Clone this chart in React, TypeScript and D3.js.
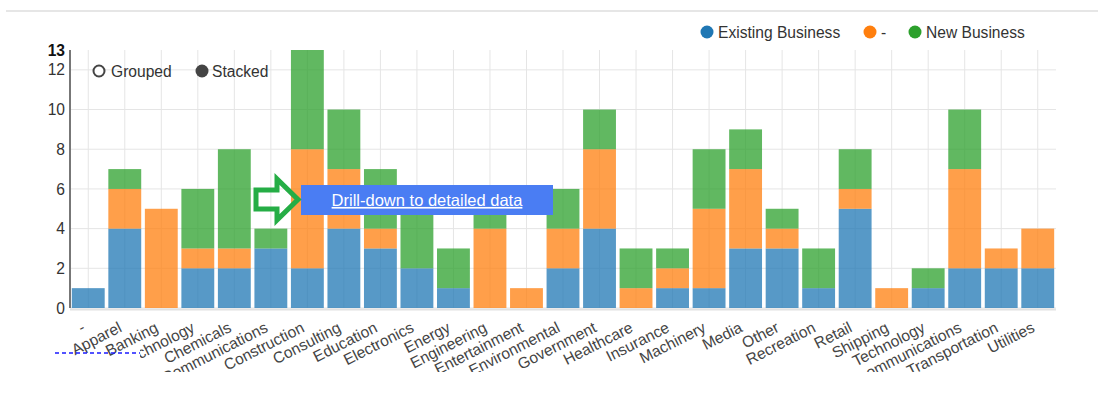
import React, { useRef, useEffect } from "react";
import * as d3 from "d3";

const categories = [
  "-", "Apparel", "Banking", "Biotechnology", "Chemicals", "Communications",
  "Construction", "Consulting", "Education", "Electronics", "Energy",
  "Engineering", "Entertainment", "Environmental", "Government", "Healthcare",
  "Insurance", "Machinery", "Media", "Other", "Recreation", "Retail",
  "Shipping", "Technology", "Telecommunications", "Transportation", "Utilities",
];
const existingBusiness = [1, 4, 0, 2, 2, 3, 2, 4, 3, 2, 1, 0, 0, 2, 4, 0, 1, 1, 3, 3, 1, 5, 0, 1, 2, 2, 2];
const dashSeries = [0, 2, 5, 1, 1, 0, 6, 3, 1, 0, 0, 4, 1, 2, 4, 1, 1, 4, 4, 1, 0, 1, 1, 0, 5, 1, 2];
const newBusiness = [0, 1, 0, 3, 5, 1, 5, 3, 3, 4, 2, 1, 0, 2, 2, 2, 1, 3, 2, 1, 2, 2, 0, 1, 3, 0, 0];
const seriesNames = ["Existing Business", "-", "New Business"];
const seriesColors = ["#1f77b4", "#ff7f0e", "#2ca02c"];
const yTicks = [0, 2, 4, 6, 8, 10, 12];
const yMax = 13;

function StackedChart() {
  const ref = useRef<SVGSVGElement>(null);

  useEffect(() => {
    const svg = d3.select(ref.current);
    svg.selectAll("*").remove();
    const font = "Arial, 'Liberation Sans', sans-serif";
    const fs = 15.6;

    const rows = categories.map((c, i) => ({
      cat: c,
      s0: existingBusiness[i],
      s1: dashSeries[i],
      s2: newBusiness[i],
    }));

    const x = d3.scaleBand().domain(categories).range([70, 1056]).paddingInner(0.1).paddingOuter(0.05);
    const y = d3.scaleLinear().domain([0, yMax]).range([308, 50]);

    // top separator
    svg.append("rect").attr("x", 6).attr("y", 10).attr("width", 1092).attr("height", 2).attr("fill", "#e6e6e6");

    const defs = svg.append("defs");
    defs.append("clipPath").attr("id", "lblclip").append("rect").attr("x", 0).attr("y", 0).attr("width", 1101).attr("height", 372);
    defs.append("clipPath").attr("id", "lblclip2").append("rect").attr("x", 140).attr("y", 0).attr("width", 961).attr("height", 372);

    // grid
    const grid = svg.append("g");
    grid.selectAll("line.h").data(yTicks).join("line")
      .attr("x1", 70).attr("x2", 1056)
      .attr("y1", (d) => y(d)).attr("y2", (d) => y(d))
      .attr("stroke", "#e5e5e5").attr("stroke-width", 1);
    grid.selectAll("line.v").data(categories).join("line")
      .attr("x1", (d) => x(d)! + x.bandwidth() / 2).attr("x2", (d) => x(d)! + x.bandwidth() / 2)
      .attr("y1", y(yMax)).attr("y2", y(0))
      .attr("stroke", "#e5e5e5").attr("stroke-width", 1);

    // bars
    const stacked = d3.stack<any>().keys(["s0", "s1", "s2"])(rows);
    svg.append("g").selectAll("g").data(stacked).join("g")
      .attr("fill", (d, i) => seriesColors[i])
      .attr("fill-opacity", 0.75)
      .selectAll("rect")
      .data((d) => d.filter((p) => p[1] - p[0] > 0))
      .join("rect")
      .attr("x", (d: any) => x(d.data.cat)!)
      .attr("width", x.bandwidth())
      .attr("y", (d) => y(d[1]))
      .attr("height", (d) => y(d[0]) - y(d[1]));

    // x axis line
    svg.append("line").attr("x1", 70).attr("x2", 1056).attr("y1", 309.5).attr("y2", 309.5)
      .attr("stroke", "#e2e2e2").attr("stroke-width", 2);
    // y axis line
    svg.append("line").attr("x1", 70).attr("x2", 70).attr("y1", y(yMax)).attr("y2", y(0))
      .attr("stroke", "#777").attr("stroke-width", 2);

    // y tick labels
    const yl = svg.append("g").attr("font-family", font).attr("font-size", fs).attr("fill", "#333").attr("text-anchor", "end");
    yl.selectAll("text").data(yTicks).join("text")
      .attr("x", 65).attr("y", (d) => y(d)).attr("dy", "0.36em")
      .text((d) => d);
    yl.append("text").attr("x", 65).attr("y", y(yMax)).attr("dy", "0.36em").attr("font-weight", "bold").attr("fill", "#111").text(yMax);

    // x labels
    const xl = svg.append("g").attr("clip-path", "url(#lblclip)")
      .attr("font-family", font).attr("font-size", fs).attr("fill", "#444");
    xl.selectAll("g").data(categories).join("g")
      .attr("clip-path", (d, i) => (i === 3 ? "url(#lblclip2)" : null))
      .append("text")
      .attr("text-anchor", "end")
      .attr("transform", (d) => `translate(${x(d)! + x.bandwidth() / 2 - 2},331) rotate(-27)`)
      .text((d) => d);

    // hidden link underline
    svg.append("line").attr("x1", 55).attr("x2", 140).attr("y1", 353).attr("y2", 353)
      .attr("stroke", "#1a1aff").attr("stroke-width", 1.5).attr("stroke-dasharray", "4,3");

    // legend
    const legendX = [707, 870, 915];
    const lg = svg.append("g").attr("font-family", font).attr("font-size", fs).attr("fill", "#333");
    seriesNames.forEach((name, i) => {
      lg.append("circle").attr("cx", legendX[i]).attr("cy", 32).attr("r", 6.5).attr("fill", seriesColors[i]);
      lg.append("text").attr("x", legendX[i] + 11).attr("y", 32).attr("dy", "0.36em").text(name);
    });

    // grouped / stacked controls
    const ctl = svg.append("g").attr("font-family", font).attr("font-size", fs).attr("fill", "#333");
    ctl.append("circle").attr("cx", 99).attr("cy", 71).attr("r", 5.5).attr("fill", "#fff").attr("stroke", "#444").attr("stroke-width", 2);
    ctl.append("text").attr("x", 111).attr("y", 71).attr("dy", "0.36em").text("Grouped");
    ctl.append("circle").attr("cx", 202).attr("cy", 71).attr("r", 6.5).attr("fill", "#444");
    ctl.append("text").attr("x", 212).attr("y", 71).attr("dy", "0.36em").text("Stacked");

    // drill-down button
    svg.append("rect").attr("x", 301).attr("y", 185).attr("width", 252).attr("height", 30).attr("fill", "#4a7df3");
    svg.append("text").attr("x", 427).attr("y", 200).attr("dy", "0.36em").attr("text-anchor", "middle")
      .attr("font-family", font).attr("font-size", 16.5).attr("fill", "#fff")
      .attr("text-decoration", "underline").text("Drill-down to detailed data");

    // arrow pointing at button
    svg.append("path")
      .attr("d", "M256,190 L277,190 L277,179 L298,199.5 L277,220 L277,209 L256,209 Z")
      .attr("fill", "none").attr("stroke", "#25ad45").attr("stroke-width", 5).attr("stroke-linejoin", "miter");
  }, []);

  return <svg ref={ref} width={1101} height={394} style={{ position: "absolute", left: 0, top: 0 }}></svg>;
}

export default function App() {
  return <StackedChart />;
}
